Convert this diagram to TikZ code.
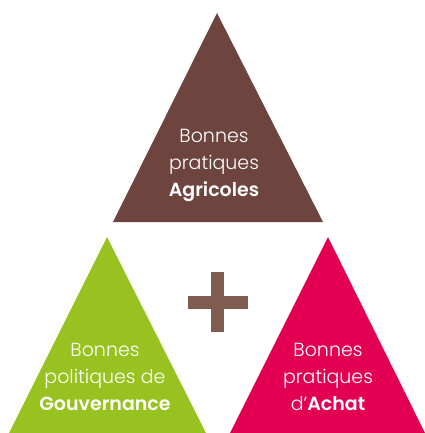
\documentclass[tikz,border=0pt]{standalone}
\usepackage{fontspec}
\setmainfont{Poppins}[UprightFont=* Light, BoldFont=* SemiBold]
\definecolor{brownA}{HTML}{6E443E}
\definecolor{brownP}{HTML}{7F5C50}
\definecolor{greenA}{HTML}{98C21F}
\definecolor{pinkA}{HTML}{E30052}
\begin{document}
\begin{tikzpicture}[x=1pt,y=-1pt,
  lbl/.style={text=white,align=center,font=\fontsize{19}{27}\selectfont,inner sep=0pt}]
\useasboundingbox (0,0) rectangle (424,433);
\fill[brownA] (217,13) -- (323,222) -- (113,222) -- cycle;
\fill[greenA] (107,237) -- (206,433) -- (9,433) -- cycle;
\fill[pinkA] (328,237) -- (425,433) -- (230,433) -- cycle;
\fill[brownP] (211,272) rectangle (224,332);
\fill[brownP] (188,296) rectangle (248,309);
\node[lbl] (agri) at (214,165) {Bonnes\\pratiques\\\textbf{Agricoles}};
\node[lbl] (gouv) at (105,377) {Bonnes\\politiques de\\\textbf{Gouvernance}};
\node[lbl] (achat) at (328,377) {Bonnes\\pratiques\\d’\textbf{Achat}};
\end{tikzpicture}
\end{document}
